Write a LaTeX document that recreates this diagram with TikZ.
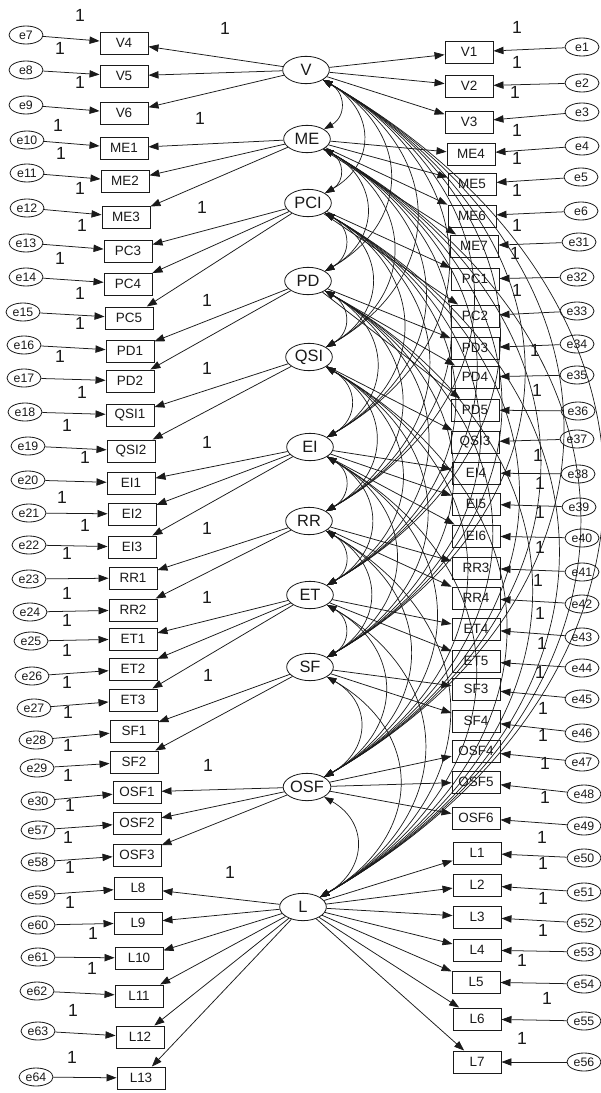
\documentclass[tikz,border=0pt]{standalone}
\usepackage{fontspec}
\setmainfont{Liberation Sans}
\usetikzlibrary{arrows.meta,shapes.geometric}
\definecolor{semInk}{HTML}{1A1A1A}
\tikzset{
  sem latent/.style={ellipse, draw=semInk, fill=white, line width=.7pt,
    minimum width=1.4cm, minimum height=.82cm, inner sep=0pt,
    font=\fontsize{14}{14}\selectfont, text=semInk},
  sem item/.style={rectangle, draw=semInk, fill=white, line width=.8pt,
    minimum width=1.44cm, minimum height=.66cm, inner sep=0pt,
    font=\fontsize{11.5}{11.5}\selectfont, text=semInk},
  sem error/.style={ellipse, draw=semInk, fill=white, line width=.7pt,
    minimum width=1.02cm, minimum height=.54cm, inner sep=0pt,
    font=\fontsize{10.5}{10.5}\selectfont, text=semInk},
  sem load/.style={draw=semInk, line width=.65pt,
    -{Triangle[length=3mm,width=2.2mm]}},
  sem cov/.style={draw=semInk, line width=.6pt,
    {Triangle[length=2.8mm,width=2mm]}-{Triangle[length=2.8mm,width=2mm]}},
  sem one/.style={font=\fontsize{15}{15}\selectfont, text=semInk, inner sep=0pt}
}
\begin{document}
\begin{tikzpicture}[x=.03cm,y=-.03cm]
  \useasboundingbox (0,0) rectangle (601,1093);

  % latent factors
  \foreach \n/\x/\y in {V/306/70, ME/307/139, PCI/308/203, PD/308/281,
      QSI/309/357, EI/310/447, RR/309/521, ET/310/595, SF/310/667,
      OSF/307/787, L/303/907}
    \node[sem latent] (\n) at (\x,\y) {\n};

  % left indicators
  \foreach \n/\x/\y/\e/\ex/\ey/\p in {
      V4/124/43/e7/26/35/V, V5/124/76/e8/26/70/V, V6/124/113/e9/26/105/V,
      ME1/124/148/e10/27/140/ME, ME2/125/181/e11/27/173/ME, ME3/126/217/e12/27/208/ME,
      PC3/128/251/e13/26/243/PCI, PC4/128/284/e14/26/277/PCI, PC5/129/318/e15/23/312/PCI,
      PD1/130/351/e16/24/345/PD, PD2/130/381/e17/24/378/PD,
      QSI1/130/415/e18/25/412/QSI, QSI2/131/451/e19/28/446/QSI,
      EI1/131/483/e20/28/480/EI, EI2/132/514/e21/29/513/EI, EI3/132/547/e22/29/545/EI,
      RR1/133/578/e23/29/579/RR, RR2/133/610/e24/30/612/RR,
      ET1/133/639/e25/31/641/ET, ET2/133/669/e26/32/676/ET, ET3/133/700/e27/34/708/ET,
      SF1/134/731/e28/36/740/SF, SF2/134/762/e29/37/768/SF,
      OSF1/137/792/e30/38/801/OSF, OSF2/137/823/e57/38/830/OSF, OSF3/137/855/e58/38/862/OSF,
      L8/138/888/e59/38/895/L, L9/138/923/e60/38/925/L, L10/139/958/e61/38/957/L,
      L11/139/996/e62/37/991/L, L12/140/1037/e63/38/1031/L, L13/141/1078/e64/36/1077/L} {
    \node[sem item] (\n) at (\x,\y) {\n};
    \node[sem error] (\e) at (\ex,\ey) {\e};
    \draw[sem load] (\e) -- (\n);
    \draw[sem load] (\p) -- (\n);
  }

  % right indicators
  \foreach \n/\x/\y/\e/\ex/\ey/\p in {
      V1/469/52/e1/582/47/V, V2/469/86/e2/582/83/V, V3/469/122/e3/582/112/V,
      ME4/471/154/e4/582/146/ME, ME5/472/184/e5/581/177/ME,
      ME6/472/216/e6/581/211/ME, ME7/474/246/e31/579/242/ME,
      PC1/475/279/e32/577/277/PCI, PC2/475/316/e33/577/311/PCI,
      PD3/475/348/e34/577/344/PD, PD4/475/377/e35/577/375/PD, PD5/475/410/e36/578/411/PD,
      QSI3/475/442/e37/577/439/QSI,
      EI4/476/473/e38/578/474/EI, EI5/476/504/e39/579/507/EI, EI6/476/536/e40/582/538/EI,
      RR3/476/568/e41/582/572/RR, RR4/476/598/e42/582/604/RR,
      ET4/476/629/e43/582/637/ET, ET5/476/661/e44/582/668/ET,
      SF3/476/689/e45/582/699/SF, SF4/476/721/e46/582/733/SF,
      OSF4/476/751/e47/582/762/OSF, OSF5/476/782/e48/584/794/OSF, OSF6/476/818/e49/584/826/OSF,
      L1/477/853/e50/584/858/L, L2/477/885/e51/584/892/L, L3/477/917/e52/584/923/L,
      L4/477/950/e53/584/952/L, L5/476/982/e54/584/984/L, L6/477/1019/e55/584/1021/L,
      L7/477/1062/e56/584/1062/L} {
    \node[sem item] (\n) at (\x,\y) {\n};
    \node[sem error] (\e) at (\ex,\ey) {\e};
    \draw[sem load] (\e) -- (\n);
    \draw[sem load] (\p) -- (\n);
  }

  % covariances between all factors
  \foreach \a [count=\i] in {V,ME,PCI,PD,QSI,EI,RR,ET,SF,OSF,L} {
    \foreach \b [count=\j] in {V,ME,PCI,PD,QSI,EI,RR,ET,SF,OSF,L} {
      \ifnum\j>\i
        \draw[sem cov] (\a) to[out=-30,in=30,looseness=1.35] (\b);
      \fi
    }
  }

  % fixed parameters
  \foreach \x/\y [count=\k] in {
      80/15, 60/48, 80/82, 58/125, 61/153, 80/188, 82/225, 60/258, 80/293, 80/323,
      60/356, 82/392, 67/425, 85/457, 62/497, 85/525, 67/553, 67/593, 67/620, 67/650,
      67/682, 68/712, 68/745, 68/775, 70/805, 68/837, 70/867, 70/902, 93/933, 92/968,
      73/1010, 72/1057,
      225/28, 200/118, 202/207, 207/300, 207/368, 207/442, 207/528, 207/597, 208/675,
      208/765, 230/872,
      517/27, 517/62, 515/92, 517/130, 517/158, 517/190, 517/225, 515/253, 517/290,
      535/350, 537/390, 538/455, 540/483, 540/512, 540/547, 538/580, 540/613, 542/643,
      540/672, 543/708, 543/735, 545/763, 545/797, 542/837, 543/863, 543/898, 543/930,
      522/960, 547/998, 522/1038}
    \node[sem one] (one\k) at (\x,\y) {1};
\end{tikzpicture}
\end{document}
